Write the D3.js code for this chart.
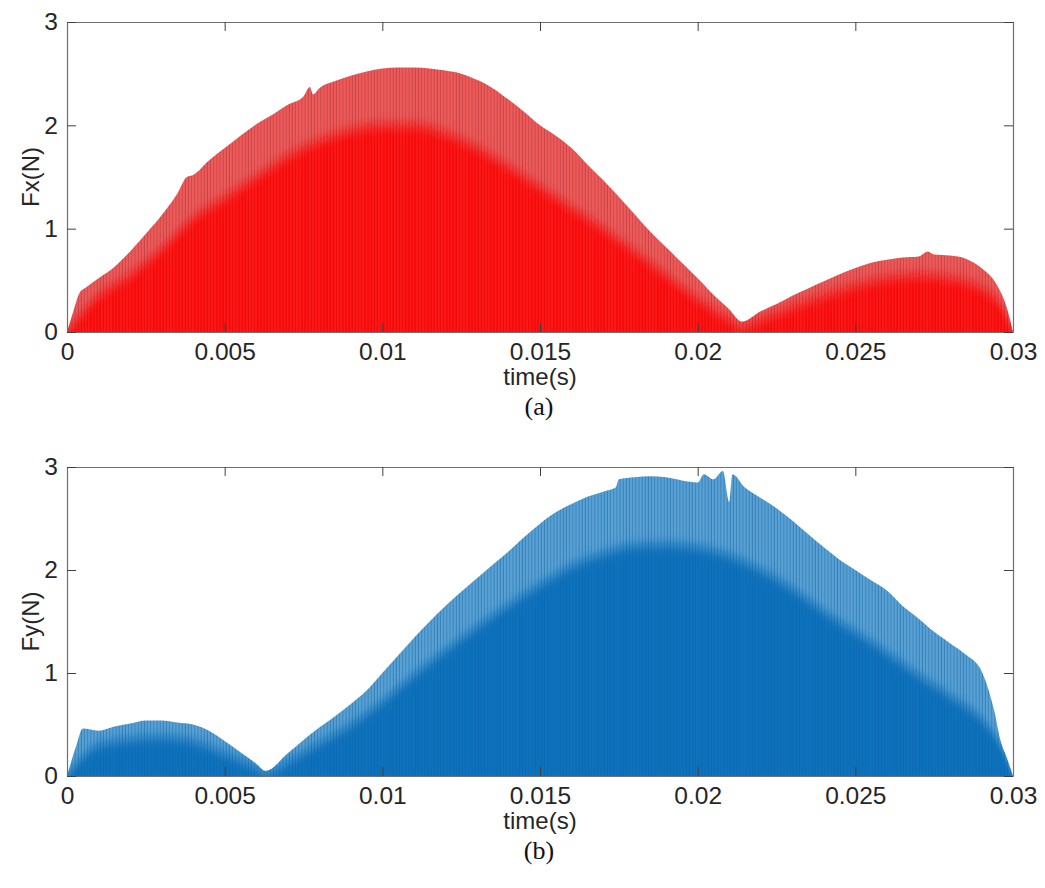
<!DOCTYPE html>
<html>
<head>
<meta charset="utf-8">
<script src="https://cdn.jsdelivr.net/npm/d3@7"></script>
<style>
  html, body { margin: 0; padding: 0; background: #fff; }
  svg { display: block; }
  .tick text { font-family: "Liberation Sans", Arial, Helvetica, sans-serif; font-size: 24.5px; fill: #262626; }
</style>
</head>
<body>
<svg id="chart" width="1045" height="888"></svg>
<script>
// ---- data (peak envelope of the force pulses) ----
const fxTime = [0, 0.0002, 0.0004, 0.0006, 0.001, 0.0015, 0.002, 0.0025, 0.003, 0.0035, 0.0038, 0.004, 0.0045,
  0.005, 0.0055, 0.006, 0.0065, 0.007, 0.0075, 0.0077, 0.0078, 0.008, 0.0085, 0.009, 0.0095, 0.01, 0.0105, 0.011,
  0.0115, 0.012, 0.0125, 0.013, 0.0135, 0.014, 0.0145, 0.015, 0.0155, 0.016, 0.0165, 0.017, 0.0175, 0.018, 0.0185,
  0.019, 0.0195, 0.02, 0.0205, 0.021, 0.0214, 0.022, 0.0225, 0.023, 0.0235, 0.024, 0.0245, 0.025, 0.0255, 0.026,
  0.0265, 0.027, 0.0273, 0.0275, 0.028, 0.0285, 0.029, 0.0295, 0.0298, 0.03];
const fxPeak = [0, 0.2, 0.38, 0.43, 0.52, 0.63, 0.78, 0.95, 1.13, 1.34, 1.5, 1.52, 1.66,
  1.78, 1.9, 2.01, 2.1, 2.2, 2.28, 2.37, 2.3, 2.36, 2.43, 2.48, 2.52, 2.55, 2.56, 2.56,
  2.55, 2.53, 2.5, 2.44, 2.36, 2.25, 2.13, 2.0, 1.9, 1.78, 1.62, 1.47, 1.31, 1.14, 0.97,
  0.82, 0.67, 0.52, 0.36, 0.22, 0.1, 0.2, 0.27, 0.35, 0.42, 0.49, 0.56, 0.62, 0.67, 0.7,
  0.72, 0.73, 0.78, 0.75, 0.74, 0.71, 0.62, 0.45, 0.24, 0];
const fxCoreTime = [0, 0.001, 0.002, 0.003, 0.004, 0.005, 0.006, 0.007, 0.008, 0.009, 0.01, 0.011, 0.012, 0.013,
  0.014, 0.015, 0.016, 0.017, 0.018, 0.019, 0.02, 0.021, 0.0214, 0.022, 0.023, 0.024, 0.025, 0.026, 0.027, 0.028,
  0.029, 0.0295, 0.03];
const fxCore = [0, 0.35, 0.55, 0.8, 1.1, 1.3, 1.5, 1.7, 1.85, 1.95, 2.0, 2.0, 1.92, 1.78,
  1.6, 1.4, 1.2, 1.0, 0.78, 0.55, 0.32, 0.12, 0.05, 0.12, 0.24, 0.35, 0.45, 0.52, 0.55, 0.52,
  0.42, 0.3, 0];

const fyTime = [0, 0.0003, 0.0005, 0.001, 0.0015, 0.002, 0.0025, 0.003, 0.0035, 0.004, 0.0045, 0.005, 0.0055,
  0.006, 0.0063, 0.007, 0.0075, 0.008, 0.0085, 0.009, 0.0095, 0.01, 0.0105, 0.011, 0.0115, 0.012, 0.0125, 0.013,
  0.0135, 0.014, 0.0145, 0.015, 0.0155, 0.016, 0.0165, 0.017, 0.0174, 0.0175, 0.018, 0.0185, 0.019, 0.0195, 0.02,
  0.0202, 0.0205, 0.0208, 0.021, 0.0211, 0.0215, 0.022, 0.0225, 0.023, 0.0235, 0.024, 0.0245, 0.025, 0.0255,
  0.026, 0.0265, 0.027, 0.0275, 0.028, 0.0285, 0.029, 0.0294, 0.0296, 0.0298, 0.03];
const fyPeak = [0, 0.3, 0.46, 0.44, 0.48, 0.51, 0.54, 0.54, 0.52, 0.5, 0.44, 0.34, 0.23,
  0.12, 0.05, 0.22, 0.35, 0.47, 0.58, 0.7, 0.83, 1.0, 1.17, 1.34, 1.5, 1.65, 1.79, 1.92,
  2.05, 2.18, 2.32, 2.45, 2.56, 2.64, 2.71, 2.76, 2.8, 2.88, 2.9, 2.91, 2.9, 2.87, 2.85,
  2.93, 2.88, 2.96, 2.66, 2.93, 2.8, 2.7, 2.6, 2.48, 2.35, 2.22, 2.1, 2.0, 1.9,
  1.8, 1.65, 1.53, 1.4, 1.29, 1.18, 1.02, 0.64, 0.35, 0.18, 0];
const fyCoreTime = [0, 0.001, 0.002, 0.003, 0.004, 0.005, 0.006, 0.0063, 0.007, 0.008, 0.009, 0.01, 0.011, 0.012,
  0.013, 0.014, 0.015, 0.016, 0.017, 0.018, 0.019, 0.02, 0.021, 0.022, 0.023, 0.024, 0.025, 0.026, 0.027, 0.028,
  0.029, 0.0295, 0.03];
const fyCore = [0, 0.3, 0.36, 0.38, 0.34, 0.22, 0.08, 0.03, 0.14, 0.32, 0.5, 0.72, 0.98, 1.22,
  1.45, 1.66, 1.86, 2.04, 2.16, 2.24, 2.25, 2.22, 2.14, 2.0, 1.82, 1.6, 1.4, 1.2, 0.98, 0.78,
  0.55, 0.35, 0];

const xTicks = [0, 0.005, 0.01, 0.015, 0.02, 0.025, 0.03];
const xTickLabels = ['0', '0.005', '0.01', '0.015', '0.02', '0.025', '0.03'];
const yTicks = [0, 1, 2, 3];
const yTickLabels = ['0', '1', '2', '3'];

const panels = [
  { id: 'fx', ylabel: 'Fx(N)', caption: '(a)', top: 22, bottom: 332,
    t: fxTime, v: fxPeak, ct: fxCoreTime, cv: fxCore,
    light: '#f15a5a', lightLine: '#a83a3a', dark: '#ff1414', darkLine: '#d80000' },
  { id: 'fy', ylabel: 'Fy(N)', caption: '(b)', top: 467, bottom: 776,
    t: fyTime, v: fyPeak, ct: fyCoreTime, cv: fyCore,
    light: '#5aa2d6', lightLine: '#1f6aa3', dark: '#0a72bd', darkLine: '#0762a6' }
];

const svg = d3.select('#chart');
const defs = svg.append('defs');
const left = 67, right = 1013;
const font = '"Liberation Sans", Arial, Helvetica, sans-serif';

defs.append('filter').attr('id', 'soft')
  .attr('x', '-5%').attr('y', '-20%').attr('width', '110%').attr('height', '140%')
  .append('feGaussianBlur').attr('stdDeviation', '0 6');

panels.forEach(p => {
  const x = d3.scaleLinear().domain([0, 0.03]).range([left, right]);
  const y = d3.scaleLinear().domain([0, 3]).range([p.bottom, p.top]);

  // striped fills imitate the dense pulse train
  const mkPattern = (name, bg, line) => {
    const pat = defs.append('pattern').attr('id', name)
      .attr('patternUnits', 'userSpaceOnUse').attr('width', 3.15).attr('height', 10);
    pat.append('rect').attr('width', 3.15).attr('height', 10).attr('fill', bg);
    pat.append('rect').attr('x', 2.2).attr('width', 0.8).attr('height', 10).attr('fill', line).attr('opacity', 0.75);
  };
  mkPattern(p.id + '-light', p.light, p.lightLine);
  mkPattern(p.id + '-dark', p.dark, p.darkLine);

  const peaks = p.t.map((t, i) => ({ t, v: p.v[i] }));
  const core = p.ct.map((t, i) => ({ t, v: p.cv[i] }));

  const outer = d3.area().x(d => x(d.t)).y0(y(0)).y1(d => y(d.v)).curve(d3.curveMonotoneX);
  const inner = d3.area().x(d => x(d.t)).y0(y(0) + 10).y1(d => y(d.v)).curve(d3.curveMonotoneX);

  defs.append('clipPath').attr('id', p.id + '-clip')
    .append('path').attr('d', outer(peaks));

  const g = svg.append('g');
  g.append('path').attr('d', outer(peaks)).attr('fill', `url(#${p.id}-light)`);
  g.append('g').attr('clip-path', `url(#${p.id}-clip)`)
    .append('path').attr('d', inner(core))
    .attr('fill', `url(#${p.id}-dark)`).attr('filter', 'url(#soft)');

  // axes, MATLAB style box with inward ticks
  const fmtX = d => xTickLabels[xTicks.indexOf(d)];
  const fmtY = d => yTickLabels[yTicks.indexOf(d)];
  const ax = [
    svg.append('g').attr('transform', `translate(0,${p.bottom})`)
      .call(d3.axisBottom(x).tickValues(xTicks).tickFormat(fmtX).tickSize(-9).tickSizeOuter(0).tickPadding(11)),
    svg.append('g').attr('transform', `translate(0,${p.top})`)
      .call(d3.axisTop(x).tickValues(xTicks).tickFormat('').tickSize(-9).tickSizeOuter(0)),
    svg.append('g').attr('transform', `translate(${left},0)`)
      .call(d3.axisLeft(y).tickValues(yTicks).tickFormat(fmtY).tickSize(-9).tickSizeOuter(0).tickPadding(9)),
    svg.append('g').attr('transform', `translate(${right},0)`)
      .call(d3.axisRight(y).tickValues(yTicks).tickFormat('').tickSize(-9).tickSizeOuter(0))
  ];
  ax.forEach(a => {
    a.select('.domain').attr('stroke', '#707070').attr('stroke-width', 1.2);
    a.selectAll('.tick line').attr('stroke', '#404040').attr('stroke-width', 1);
    a.attr('font-family', null).attr('font-size', null);
  });

  svg.append('text')
    .attr('transform', `translate(39,${(p.top + p.bottom) / 2}) rotate(-90)`)
    .attr('text-anchor', 'middle')
    .attr('font-family', font).attr('font-size', 24).attr('fill', '#262626')
    .text(p.ylabel);

  svg.append('text')
    .attr('x', (left + right) / 2).attr('y', p.bottom + 53)
    .attr('text-anchor', 'middle')
    .attr('font-family', font).attr('font-size', 24).attr('fill', '#262626')
    .text('time(s)');

  svg.append('text')
    .attr('x', (left + right) / 2 - 1).attr('y', p.bottom + 83)
    .attr('text-anchor', 'middle')
    .attr('font-family', '"Liberation Serif", "Times New Roman", serif').attr('font-size', 26).attr('fill', '#111')
    .text(p.caption);
});
</script>
</body>
</html>
